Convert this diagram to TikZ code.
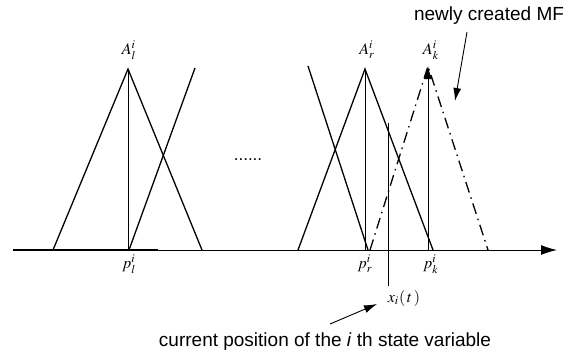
\documentclass[tikz,border=0pt]{standalone}
\usepackage{mathptmx}
\usepackage{graphicx}
\usepackage{fontspec}
\setmainfont{Liberation Sans}
\usetikzlibrary{arrows.meta}
\newcommand\mlab[1]{\scalebox{1.6}{$#1$}}
\begin{document}
\begin{tikzpicture}[x=1pt,y=-1pt,
  mf/.style={line width=1.3pt},
  vline/.style={line width=1pt},
  dd/.style={line width=1.3pt,dash pattern=on 11pt off 5pt on 1.5pt off 5pt},
  lab/.style={inner sep=0pt},
  txt/.style={inner sep=0pt,font=\fontsize{19}{22}\selectfont},
  tip/.style={-{Latex[length=13pt,width=8pt]}}]
\useasboundingbox (0,0) rectangle (571,354);
% coordinates
\coordinate (ax0) at (13,250);
\coordinate (ax1) at (557,250);
\coordinate (a1) at (128,69);
\coordinate (b1l) at (53,250);
\coordinate (b1r) at (202,250);
\coordinate (p1) at (128,250);
\coordinate (c1b) at (129,250);
\coordinate (c1t) at (195,68);
\coordinate (d2t) at (308,66);
\coordinate (d2b) at (368,250);
\coordinate (ar) at (365,69);
\coordinate (brl) at (298,250);
\coordinate (brr) at (433,250);
\coordinate (pr) at (365,250);
\coordinate (ak) at (428,66);
\coordinate (bkl) at (370,250);
\coordinate (bkr) at (488,250);
\coordinate (pk) at (428,250);
\coordinate (xt) at (388,123);
\coordinate (xb) at (388,286);
% axis
\draw[line width=1pt,-{Latex[length=16pt,width=10pt]}] (ax0) -- (ax1);
\draw[line width=1.4pt] (ax0) -- (158,250);
% left MFs
\draw[mf] (b1l) -- (a1) -- (b1r);
\draw[vline] (a1) -- (p1);
\draw[mf] (c1b) -- (c1t);
% right MFs
\draw[mf] (d2t) -- (d2b);
\draw[mf] (brl) -- (ar) -- (brr);
\draw[vline] (ar) -- (pr);
\draw[dd] (bkl) -- (ak) -- (bkr);
\draw[vline,tip] (pk) -- (ak);
\draw[vline] (xt) -- (xb);
% labels
\node[lab] (la1) at (129,50) {\mlab{A_l^i}};
\node[lab] (lar) at (367,50) {\mlab{A_r^i}};
\node[lab] (lak) at (431,50) {\mlab{A_k^i}};
\node[lab] (lp1) at (129,264) {\mlab{p_l^i}};
\node[lab] (lpr) at (365,264) {\mlab{p_r^i}};
\node[lab] (lpk) at (431,264) {\mlab{p_k^i}};
\node[lab] (lx) at (404,298) {\mlab{x_i(\,t\,)}};
\node[lab,font=\fontsize{17}{19}\selectfont] (dots) at (248,160) {......};
% texts
\node[txt] (mf) at (489,16) {newly created MF};
\node[txt] (cur) at (325,342) {current position of the \textit{i} th state variable};
\coordinate (mfs) at (467,32);
\coordinate (mfe) at (455,101);
\coordinate (cus) at (330,324);
\coordinate (cue) at (377,304);
\draw[line width=0.9pt,tip] (mfs) -- (mfe);
\draw[line width=0.9pt,tip] (cus) -- (cue);
\end{tikzpicture}
\end{document}
